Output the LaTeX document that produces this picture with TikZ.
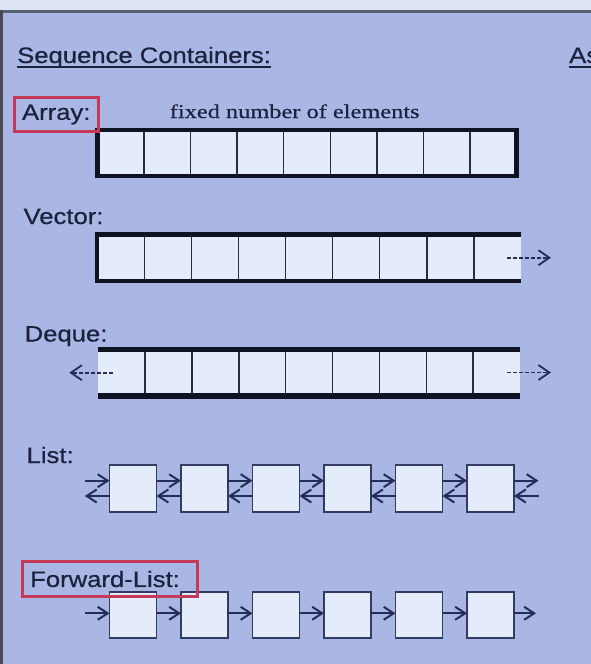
\documentclass[tikz,border=0pt]{standalone}
\usepackage{fontspec}
\setmainfont{Liberation Serif}
\newfontfamily\labfont[FakeStretch=1.15,FakeBold=0.6]{Liberation Sans}
\newfontfamily\serifw[FakeStretch=1.25,FakeBold=0.4]{Liberation Serif}
\usetikzlibrary{arrows.meta,calc}
\definecolor{bg}{RGB}{170,182,228}
\definecolor{topstrip}{RGB}{220,228,245}
\definecolor{edgeline}{RGB}{90,96,115}
\definecolor{edgeleft}{RGB}{72,74,84}
\definecolor{cellfill}{RGB}{228,236,252}
\definecolor{heavy}{RGB}{15,18,35}
\definecolor{thinline}{RGB}{40,45,70}
\definecolor{txt}{RGB}{28,34,62}
\definecolor{arrowc}{RGB}{35,45,88}
\definecolor{boxline}{RGB}{50,60,98}
\definecolor{redframe}{RGB}{196,58,88}
\tikzset{
  lab/.style={font=\labfont\fontsize{22.3}{26}\selectfont, text=txt, inner sep=0pt},
  redbox/.style={lab, draw=redframe, line width=3pt},
  uline/.style={draw=txt, line width=2.5pt},
  acell/.style={rectangle, draw=thinline, line width=1.5pt, fill=cellfill, minimum width=46.556pt, minimum height=46pt, inner sep=0pt, outer sep=0pt},
  vcell/.style={rectangle, fill=cellfill, minimum width=47.09pt, minimum height=46.5pt, inner sep=0pt, outer sep=0pt},
  dcell/.style={rectangle, fill=cellfill, minimum width=46.856pt, minimum height=46.5pt, inner sep=0pt, outer sep=0pt},
  sepline/.style={draw=thinline, line width=1.5pt},
  heavyline/.style={draw=heavy, line width=4.5pt, line join=miter},
  lbox/.style={rectangle, draw=boxline, line width=1.8pt, fill=cellfill, minimum width=47pt, minimum height=47pt, inner sep=0pt, outer sep=0pt},
  fbox/.style={lbox, minimum height=46pt},
  larrow/.style={draw=arrowc, line width=2pt, -{Straight Barb[length=10pt,width=13pt,line width=2pt]}},
  dasharrow/.style={draw=arrowc, line width=1.6pt, dash pattern=on 4pt off 2pt, -{Straight Barb[length=11pt,width=15pt,line width=1.8pt]}}
}
\begin{document}
\begin{tikzpicture}[x=1pt,y=-1pt]
\useasboundingbox (0,0) rectangle (591,664);
\clip (0,0) rectangle (591,664);
\fill[bg] (-10,-10) rectangle (601,674);
\fill[topstrip] (-10,-10) rectangle (601,10);
\fill[edgeline] (-10,10) rectangle (601,12.5);
\fill[edgeleft] (-10,10) rectangle (2.5,674);

% title
\node[lab, anchor=base west] (title) at (17,63) {Sequence Containers:};
\draw[uline] ($(title.base west)+(0,3.8)$) -- ($(title.base east)+(0,3.8)$);
\node[lab, anchor=base west] (as) at (569,63) {As};
\draw[uline] ($(as.base west)+(0,3.8)$) -- ($(as.base east)+(0,3.8)$);

% Array
\node[font=\serifw\fontsize{19.5}{22}\selectfont, text=txt, inner sep=0pt, anchor=base west] (fixed) at (169.6,118) {fixed number of elements};
\foreach \i in {1,...,9}
  \node[acell] (a\i) at ({97.5+46.556*(\i-0.5)},153) {};
\draw[heavyline] (a1.north west) rectangle (a9.south east);
\node[redbox, minimum width=83.5pt, minimum height=34pt] (arraylab) at (56.25,114.5) {\raisebox{-1.5pt}{Array:}};

% Vector
\node[lab, anchor=base west] (veclab) at (23.4,224) {Vector:};
\foreach \i in {1,...,9}
  \node[vcell] (v\i) at ({97.2+47.09*(\i-0.5)},257.75) {};
\foreach \i in {1,...,8}
  \draw[sepline] (v\i.north east) -- (v\i.south east);
\draw[heavyline] (v9.north east) -- (v1.north west) -- (v1.south west) -- (v9.south east);
\coordinate (vs) at (506.7,257.7);
\coordinate (ve) at (551,257.7);
\draw[dasharrow] (vs) -- (ve);

% Deque
\node[lab, anchor=base west] (deqlab) at (24.5,341.5) {Deque:};
\foreach \i in {1,...,9}
  \node[dcell] (d\i) at ({98.3+46.856*(\i-0.5)},372.75) {};
\foreach \i in {1,...,8}
  \draw[sepline] (d\i.north east) -- (d\i.south east);
\draw[heavyline, line width=5.5pt] (d1.north west) -- (d9.north east);
\draw[heavyline, line width=5.5pt] (d1.south west) -- (d9.south east);
\coordinate (dls) at (113,372.7);
\coordinate (dle) at (69.3,372.7);
\draw[dasharrow] (dls) -- (dle);
\coordinate (drs) at (507,372.5);
\coordinate (dre) at (551,372.5);
\draw[dasharrow] (drs) -- (dre);

% List
\node[lab, anchor=base west] (listlab) at (26.4,463) {List:};
\foreach \i/\x in {1/133,2/204.5,3/276,4/347.5,5/419,6/490.5}
  \node[lbox] (l\i) at (\x,488.7) {};
\coordinate (lL) at (84.8,488.7);
\coordinate (lR) at (538.5,488.7);
\draw[larrow] ([yshift=8pt]lL) -- ([yshift=8pt]l1.west);
\draw[larrow] ([yshift=-7.3pt]l1.west) -- ([yshift=-7.3pt]lL);
\foreach \i/\j in {1/2,2/3,3/4,4/5,5/6}{
  \draw[larrow] ([yshift=8pt]l\i.east) -- ([yshift=8pt]l\j.west);
  \draw[larrow] ([yshift=-7.3pt]l\j.west) -- ([yshift=-7.3pt]l\i.east);
}
\draw[larrow] ([yshift=8pt]l6.east) -- ([yshift=8pt]lR);
\draw[larrow] ([yshift=-7.3pt]lR) -- ([yshift=-7.3pt]l6.east);

% Forward list
\foreach \i/\x in {1/133,2/204.5,3/276,4/347.5,5/419,6/490.5}
  \node[fbox] (f\i) at (\x,615) {};
\coordinate (fL) at (84.8,615);
\coordinate (fR) at (536,615);
\draw[larrow] ([yshift=1.7pt]fL) -- ([yshift=1.7pt]f1.west);
\foreach \i/\j in {1/2,2/3,3/4,4/5,5/6}
  \draw[larrow] ([yshift=1.7pt]f\i.east) -- ([yshift=1.7pt]f\j.west);
\draw[larrow] ([yshift=1.7pt]f6.east) -- ([yshift=1.7pt]fR);
\node[redbox, anchor=north west, text width=159.3pt, align=left, inner xsep=8pt, minimum height=35pt] (fllab) at (20.7,560) {\raisebox{-1.5pt}{Forward-List:}};
\end{tikzpicture}
\end{document}
